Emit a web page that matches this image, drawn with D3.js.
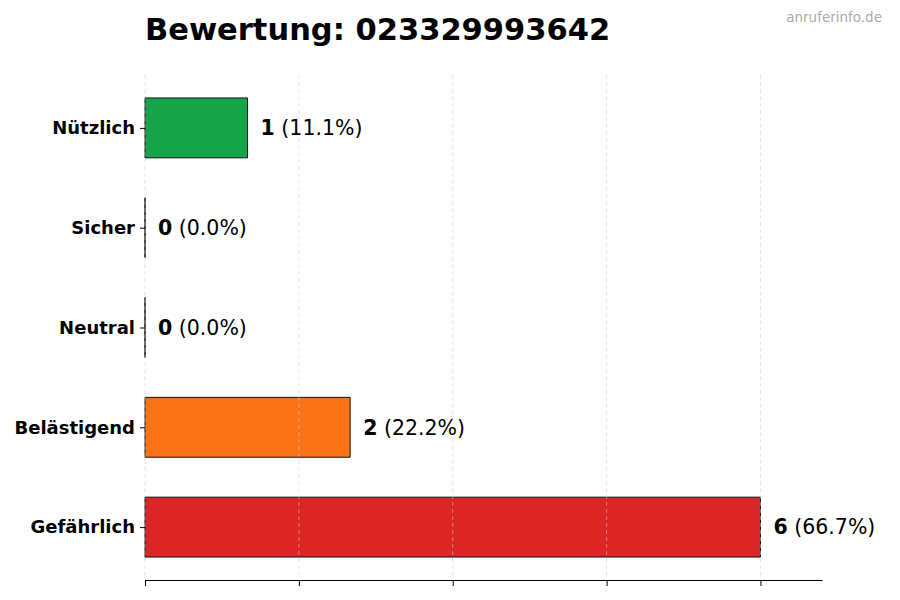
<!DOCTYPE html>
<html>
<head>
<meta charset="utf-8">
<script src="https://cdn.jsdelivr.net/npm/d3@7"></script>
<style>
  body { margin: 0; background: #fff; }
  text { font-family: "DejaVu Sans", sans-serif; }
</style>
</head>
<body>
<script>
(function(){

  //chart data
  var categories = ["Nützlich", "Sicher", "Neutral", "Belästigend", "Gefährlich"];
  var counts = [1, 0, 0, 2, 6];
  var percents = ["11.1%", "0.0%", "0.0%", "22.2%", "66.7%"];
  var barColors = ["#16a34a", "#16a34a", "#9ca3af", "#f97316", "#dc2626"];
  var xTicks = [0, 1.5, 3, 4.5, 6];

  //frame dimensions
  var width = 900,
      height = 600,
      left = 145,
      right = 822,
      top = 75,
      bottom = 580;

  var svg = d3.select("body")
      .append("svg")
      .attr("width", width)
      .attr("height", height);

  //scales
  var xScale = d3.scaleLinear()
      .domain([0, d3.max(counts) * 1.1])
      .range([left, right]);

  var yScale = d3.scaleLinear()
      .domain([-0.53, categories.length - 1 + 0.53])
      .range([top, bottom]);

  var barHeight = yScale(0.6) - yScale(0);

  //bars as closed paths so zero values still show their edge
  svg.selectAll(".bar")
      .data(counts)
      .enter()
      .append("path")
      .attr("class", "bar")
      .attr("d", function(d, i){
          var x0 = xScale(0), x1 = xScale(d),
              y0 = yScale(i) - barHeight / 2, y1 = yScale(i) + barHeight / 2;
          return "M" + x0 + "," + y0 + "H" + x1 + "V" + y1 + "H" + x0 + "Z";
      })
      .attr("fill", function(d, i){ return barColors[i]; })
      .attr("stroke", "#111")
      .attr("stroke-width", 1);

  //vertical grid lines (drawn above the bars)
  svg.selectAll(".grid")
      .data(xTicks)
      .enter()
      .append("line")
      .attr("class", "grid")
      .attr("x1", function(d){ return xScale(d); })
      .attr("x2", function(d){ return xScale(d); })
      .attr("y1", top)
      .attr("y2", bottom)
      .attr("stroke", "#cccccc")
      .attr("stroke-opacity", 0.7)
      .attr("stroke-width", 0.8)
      .attr("stroke-dasharray", "4,3");

  //value labels
  var labels = svg.selectAll(".valueLabel")
      .data(counts)
      .enter()
      .append("text")
      .attr("class", "valueLabel")
      .attr("x", function(d){ return xScale(d) + 13; })
      .attr("y", function(d, i){ return yScale(i); })
      .attr("dy", "0.36em")
      .style("font-size", "20.5px")
      .style("fill", "#000");

  labels.append("tspan")
      .style("font-weight", "bold")
      .text(function(d){ return d; });

  labels.append("tspan")
      .text(function(d, i){ return " (" + percents[i] + ")"; });

  //y axis: ticks and labels only
  var yAxis = d3.axisLeft(yScale)
      .tickValues(d3.range(categories.length))
      .tickFormat(function(i){ return categories[i]; })
      .tickSize(5)
      .tickPadding(5);

  var yAxisG = svg.append("g")
      .attr("transform", "translate(" + left + ",0)")
      .call(yAxis);
  yAxisG.select(".domain").remove();
  yAxisG.selectAll("text")
      .style("font-family", "'DejaVu Sans', sans-serif")
      .style("font-size", "18px")
      .style("font-weight", "bold")
      .style("fill", "#000");
  yAxisG.selectAll("line").attr("stroke", "#000");

  //x axis: bottom spine with ticks, no labels
  var xAxis = d3.axisBottom(xScale)
      .tickValues(xTicks)
      .tickFormat("")
      .tickSize(6)
      .tickSizeOuter(0);

  var xAxisG = svg.append("g")
      .attr("transform", "translate(0," + bottom + ")")
      .call(xAxis);
  xAxisG.select(".domain").attr("stroke", "#000").attr("stroke-width", 1);
  xAxisG.selectAll("line").attr("stroke", "#000");

  //title
  svg.append("text")
      .attr("x", left)
      .attr("y", 40)
      .style("font-size", "30.5px")
      .style("font-weight", "bold")
      .style("fill", "#000")
      .text("Bewertung: 023329993642");

  //watermark
  svg.append("text")
      .attr("x", 882)
      .attr("y", 22)
      .attr("text-anchor", "end")
      .style("font-size", "13.5px")
      .style("fill", "#aaaaaa")
      .text("anruferinfo.de");

})();
</script>
</body>
</html>
